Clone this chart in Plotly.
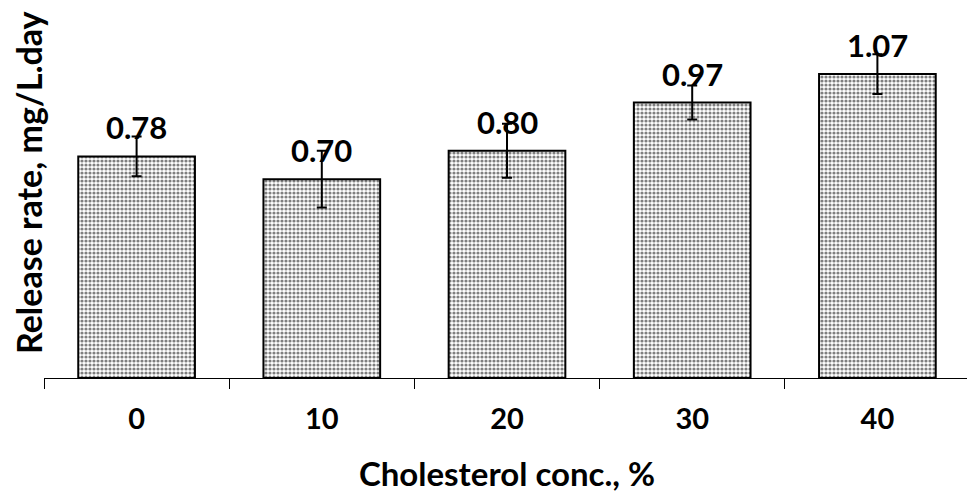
import plotly.graph_objects as go

# cholesterol concentration in %
categories = ['0', '10', '20', '30', '40']
release_rate = [0.78, 0.70, 0.80, 0.97, 1.07]
errors = [0.07, 0.10, 0.095, 0.06, 0.07]
value_labels = ['0.78', '0.70', '0.80', '0.97', '1.07']

FONT = 'Lato'


# Bar chart of the release rate
def make_bar_chart():
    fig = go.Figure()
    fig.add_trace(go.Bar(
        x=categories,
        y=release_rate,
        error_y=dict(type='data', array=errors, color='black', thickness=2, width=5),
        marker=dict(
            color='white',
            line=dict(color='black', width=2),
            pattern=dict(shape='.', fgcolor='black', bgcolor='white', size=4, solidity=0.5),
        ),
        width=0.63,
    ))

    # value labels above each bar (x by category index)
    for i in range(len(categories)):
        fig.add_annotation(
            x=i, y=release_rate[i], text=value_labels[i], showarrow=False, yshift=29,
            font=dict(family=FONT, size=31, color='black', weight='bold'),
        )

    # y title as annotation so it sits like the original
    fig.add_annotation(
        xref='paper', yref='paper', x=-0.0173, y=0.552,
        xanchor='center', yanchor='middle',
        text='Release rate, mg/L.day', textangle=-90, showarrow=False,
        font=dict(family=FONT, size=34, color='black', weight='bold'),
    )

    # page body adds 8px, so the figure is shifted back by that
    fig.update_layout(
        width=967, height=485,
        margin=dict(l=36, r=5, t=15, b=113),
        plot_bgcolor='white', paper_bgcolor='white',
        showlegend=False,
        xaxis=dict(
            type='category',
            range=[-0.5, 4.5],
            showline=True, linecolor='black', linewidth=1,
            ticks='outside', tickson='boundaries', ticklen=10, tickcolor='black',
            ticklabelstandoff=15, tickangle=0,
            tickfont=dict(family=FONT, size=29, color='black', weight='bold'),
            showgrid=False,
            title=dict(text='Cholesterol conc., %', standoff=30,
                       font=dict(family=FONT, size=33, color='black', weight='bold')),
        ),
        yaxis=dict(visible=False, range=[0, 1.25], showgrid=False),
    )
    fig.write_html('out.html')


make_bar_chart()
